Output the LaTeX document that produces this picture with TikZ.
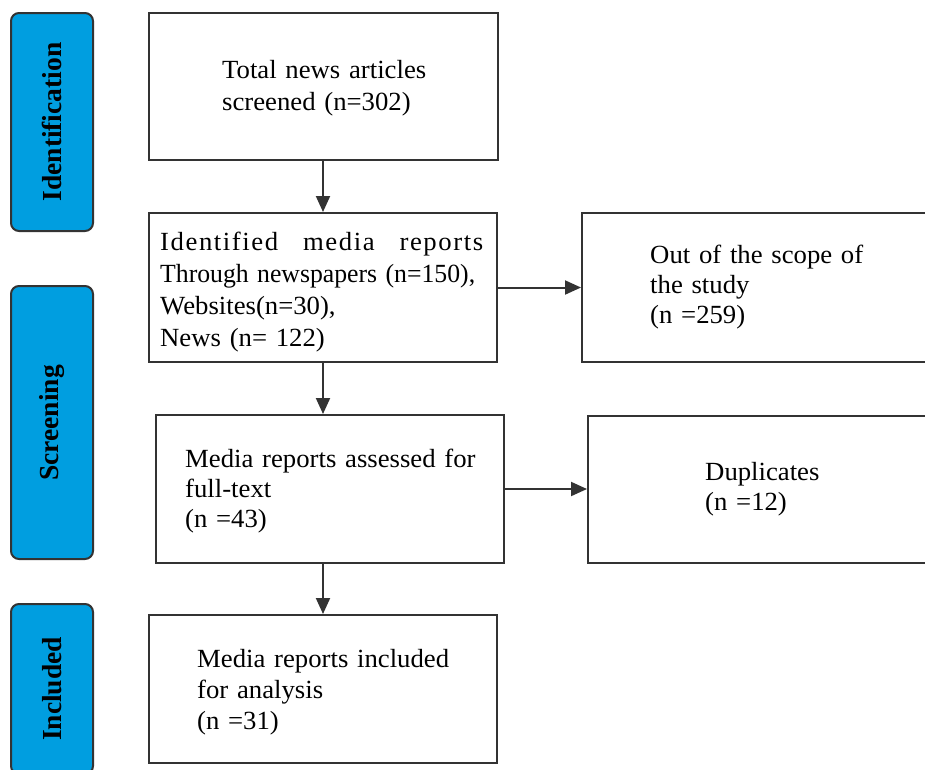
\documentclass[tikz,border=0pt]{standalone}
\usepackage{fontspec}
\usepackage{graphicx}
\usetikzlibrary{arrows.meta}
\setmainfont{Liberation Serif}
\newfontfamily\boxfont[FakeStretch=1.02]{Liberation Serif}
\definecolor{ln}{HTML}{333333}
\definecolor{sidefill}{HTML}{009EE0}
\tikzset{
  sidebox/.style={draw=ln, line width=2pt, fill=sidefill, rounded corners=8pt, minimum width=82pt, inner sep=0pt},
  sidelabel/.style={rotate=90, font=\bfseries\fontsize{27.5}{30}\selectfont, inner sep=0pt},
  flowbox/.style={draw=ln, line width=2pt, inner sep=0pt},
  boxtext/.style={anchor=base west, inner sep=0pt, align=left, text width=340pt, font=\boxfont\fontsize{26.2}{30}\selectfont},
  arr/.style={draw=ln, line width=2pt, -{Triangle[length=16pt,width=14pt]}}
}
\begin{document}
\begin{tikzpicture}[x=1pt,y=-1pt]
\useasboundingbox (0,0) rectangle (925,769);
\clip (0,0) rectangle (925,769);
% side phase boxes
\node[sidebox, minimum height=218pt] (idf) at (52,122) {};
\node[sidelabel] (idflab) at (52,122) {Identification};
\node[sidebox, minimum height=273pt] (scr) at (52,422.5) {};
\node[sidelabel] (scrlab) at (52,423) {Screening};
\node[sidebox, minimum height=170pt] (inc) at (52,689) {};
\node[sidelabel] (inclab) at (52,689) {Included};
% flow boxes
\node[flowbox, minimum width=349pt, minimum height=147pt] (b1) at (323.5,86.5) {};
\node[flowbox, minimum width=348pt, minimum height=149pt] (b2) at (323,287.5) {};
\node[flowbox, minimum width=378pt, minimum height=149pt] (out) at (771,287.5) {};
\node[flowbox, minimum width=348pt, minimum height=148pt] (b3) at (330,489) {};
\node[flowbox, minimum width=372pt, minimum height=147pt] (dup) at (774,489.5) {};
\node[flowbox, minimum width=348pt, minimum height=148pt] (b4) at (323,689) {};
% texts
\node[boxtext, font=\boxfont\fontsize{26.2}{32}\selectfont] (t1) at (222,78) {Total news articles\\screened (n=302)};
\node[boxtext, font=\boxfont\fontsize{26.2}{32}\selectfont] (t2) at (160,250) {\makebox[323pt][l]{\addfontfeature{LetterSpace=6}Identified\hfill media\hfill reports}\\\resizebox{315pt}{\height}{Through newspapers (n=150),}\\Websites(n=30),\\News (n= 122)};
\node[boxtext] (t3) at (650,263) {Out of the scope of\\the study\\(n =259)};
\node[boxtext] (t4) at (185,467) {Media reports assessed for\\full-text\\(n =43)};
\node[boxtext] (t5) at (705,480) {Duplicates\\(n =12)};
\node[boxtext, font=\boxfont\fontsize{26.2}{31}\selectfont] (t6) at (197,667) {Media reports included\\for analysis\\(n =31)};
% connectors
\draw[arr] (b1.south -| b2.north) -- (b2.north);
\draw[arr] (b2.south) -- (b2.south |- b3.north);
\draw[arr] (b3.south -| b4.north) -- (b4.north);
\draw[arr] (b2.east) -- (out.west);
\draw[arr] (b3.east) -- (b3.east -| dup.west);
\end{tikzpicture}
\end{document}
